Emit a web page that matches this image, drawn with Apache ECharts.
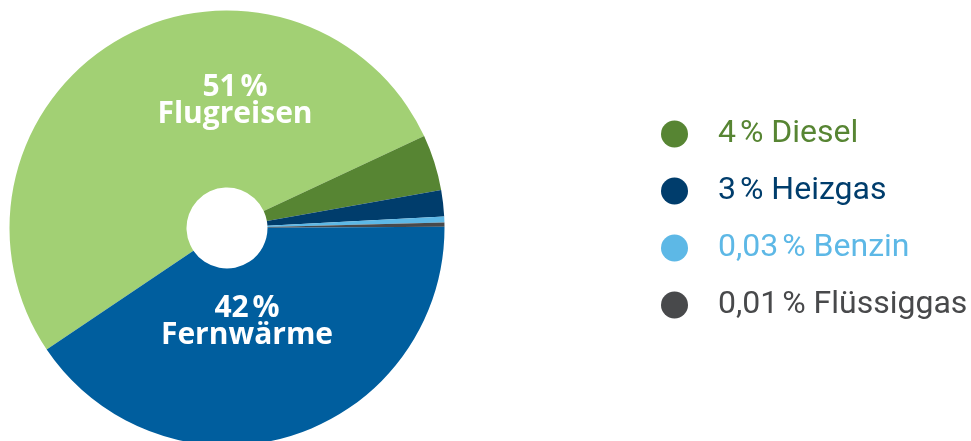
<!DOCTYPE html>
<html>
<head>
<meta charset="utf-8">
<script src="https://cdn.jsdelivr.net/npm/echarts@6/dist/echarts.min.js"></script>
<style>
  html, body { margin: 0; padding: 0; background: #fff; }
  #chart { width: 971px; height: 441px; }
</style>
</head>
<body>
<div id="chart"></div>
<script>
// slice order runs clockwise from the lower-left edge
var names = ['Flugreisen', 'Diesel', 'Heizgas', 'Benzin', 'Flüssiggas', 'Fernwärme']
// share of the circle as drawn
var shares = [52.5, 4.15, 1.95, 0.45, 0.3, 40.65]
// percentages as printed on the chart
var pctLabels = ['51\u202F%', '4\u202F%', '3\u202F%', '0,03\u202F%', '0,01\u202F%', '42\u202F%']
var colors = ['#a2d074', '#578533', '#003d6c', '#5db8e6', '#48494b', '#005e9e']
var legendNames = ['Diesel', 'Heizgas', 'Benzin', 'Flüssiggas']

var chart = echarts.init(document.getElementById('chart'))

var pieData = names.map(function (n, i) {
  return { name: n, value: shares[i], itemStyle: { color: colors[i] } }
})

var legendData = legendNames.map(function (n) {
  var i = names.indexOf(n)
  return { name: n, textStyle: { color: colors[i] } }
})

function innerText(name) {
  var i = names.indexOf(name)
  return pctLabels[i] + '\n' + name
}

chart.setOption({
  animation: false,
  legend: {
    orient: 'vertical',
    left: 656,
    top: 113,
    icon: 'circle',
    itemWidth: 27,
    itemHeight: 27,
    itemGap: 25,
    selectedMode: false,
    data: legendData,
    formatter: function (name) {
      return pctLabels[names.indexOf(name)] + ' ' + name
    },
    textStyle: {
      fontFamily: 'Roboto',
      fontSize: 32,
      lineHeight: 27,
      padding: [0, 0, 0, 25]
    }
  },
  graphic: [
    {
      type: 'text',
      x: 235,
      y: 101,
      z: 100,
      silent: true,
      style: {
        text: innerText('Flugreisen'),
        fill: '#fff',
        font: 'bold 30px "Open Sans"',
        lineHeight: 27,
        align: 'center',
        verticalAlign: 'middle'
      }
    },
    {
      type: 'text',
      x: 247,
      y: 322,
      z: 100,
      silent: true,
      style: {
        text: innerText('Fernwärme'),
        fill: '#fff',
        font: 'bold 30px "Open Sans"',
        lineHeight: 27,
        align: 'center',
        verticalAlign: 'middle'
      }
    }
  ],
  series: [{
    type: 'pie',
    center: [227, 228],
    radius: [40.5, 217.5],
    startAngle: 214,
    clockwise: true,
    label: { show: false },
    labelLine: { show: false },
    emphasis: { disabled: true },
    itemStyle: { borderWidth: 0 },
    data: pieData
  }]
})
</script>
</body>
</html>
